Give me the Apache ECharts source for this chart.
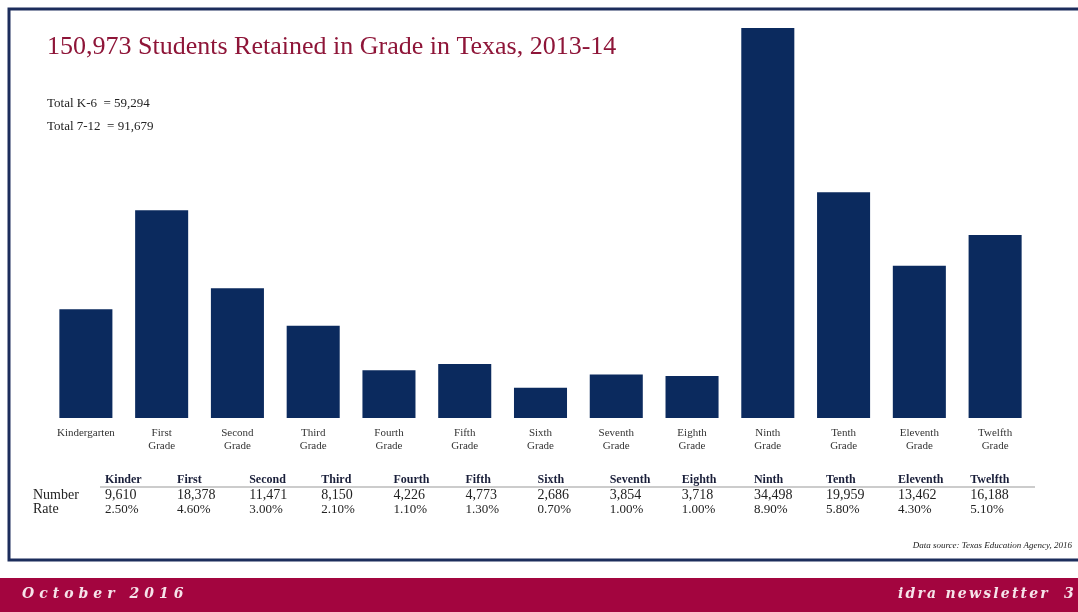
<!DOCTYPE html>
<html><head><meta charset="utf-8">
<script src="https://cdn.jsdelivr.net/npm/echarts@6/dist/echarts.min.js"></script>
<style>
html,body{margin:0;padding:0;background:#fff}
#wrap{position:relative;width:1078px;height:612px}
#c{width:1078px;height:612px}
.ft{position:absolute;top:585px;color:#f6e4ea;font:italic bold 14px "DejaVu Serif";white-space:pre}
</style>
</head><body><div id="wrap"><div id="c"></div>
<div class="ft" id="fl" style="left:22px;letter-spacing:5px"></div>
<div class="ft" id="fr" style="right:2px;letter-spacing:2.2px"></div></div>
<script>
const categories = ['Kindergarten','First\nGrade','Second\nGrade','Third\nGrade','Fourth\nGrade','Fifth\nGrade','Sixth\nGrade','Seventh\nGrade','Eighth\nGrade','Ninth\nGrade','Tenth\nGrade','Eleventh\nGrade','Twelfth\nGrade'];
const retained = [9610,18378,11471,8150,4226,4773,2686,3854,3718,34498,19959,13462,16188];
const tableHeaders = ['Kinder','First','Second','Third','Fourth','Fifth','Sixth','Seventh','Eighth','Ninth','Tenth','Eleventh','Twelfth'];
const rates = ['2.50%','4.60%','3.00%','2.10%','1.10%','1.30%','0.70%','1.00%','1.00%','8.90%','5.80%','4.30%','5.10%'];
const totals = ['Total K-6  = 59,294','Total 7-12  = 91,679'];
const footerLeft = 'October 2016';
const footerRight = 'idra newsletter  3';

document.getElementById('fl').textContent = footerLeft;
document.getElementById('fr').textContent = footerRight;

const serif = 'Liberation Serif';
const fmt = v => v.toLocaleString('en-US');
const g = [];
// frame
g.push({type:'rect', shape:{x:9,y:9,width:1080,height:551}, style:{fill:'#fff', stroke:'#1c2d5c', lineWidth:3}, z:-10});
// footer band
g.push({type:'rect', shape:{x:0,y:578,width:1078,height:34}, style:{fill:'#a3053f'}, z:-5});
// totals
totals.forEach((t,i)=>g.push({type:'text', left:47, top:97+i*23, style:{text:t, fill:'#222', font:'13px "'+serif+'"'}}));
// table
const tx0 = 105, tstep = 72.1;
g.push({type:'line', shape:{x1:100,y1:487,x2:1035,y2:487}, style:{stroke:'#999', lineWidth:1}});
g.push({type:'text', left:33, top:488, style:{text:'Number', fill:'#222', font:'14px "'+serif+'"'}});
g.push({type:'text', left:33, top:502, style:{text:'Rate', fill:'#222', font:'14px "'+serif+'"'}});
tableHeaders.forEach((h,i)=>{
  const x = tx0 + i*tstep;
  g.push({type:'text', left:x, top:474, style:{text:h, fill:'#1a1f3a', font:'bold 12px "'+serif+'"'}});
  g.push({type:'text', left:x, top:488, style:{text:fmt(retained[i]), fill:'#222', font:'14px "'+serif+'"'}});
  g.push({type:'text', left:x, top:503, style:{text:rates[i], fill:'#222', font:'13px "'+serif+'"'}});
});
g.push({type:'text', right:6, top:541, style:{text:'Data source: Texas Education Agency, 2016', fill:'#222', font:'italic 9px "'+serif+'"'}});

const chart = echarts.init(document.getElementById('c'));
chart.setOption({
  animation:false,
  title:{text:'150,973 Students Retained in Grade in Texas, 2013-14', left:42, top:29,
    textStyle:{color:'#8e1538', fontFamily:serif, fontWeight:'normal', fontSize:26}},
  grid:{left:48, right:45, top:28, bottom:194},
  xAxis:{type:'category', data:categories, axisLine:{show:false}, axisTick:{show:false},
    axisLabel:{interval:0, color:'#333', fontFamily:serif, fontSize:11, lineHeight:13, margin:9}},
  yAxis:{type:'value', min:0, max:34498, show:false, splitLine:{show:false}},
  series:[{type:'bar', data:retained, barCategoryGap:'30%', itemStyle:{color:'#0b2a5e'}}],
  graphic:g
});
</script></body></html>
